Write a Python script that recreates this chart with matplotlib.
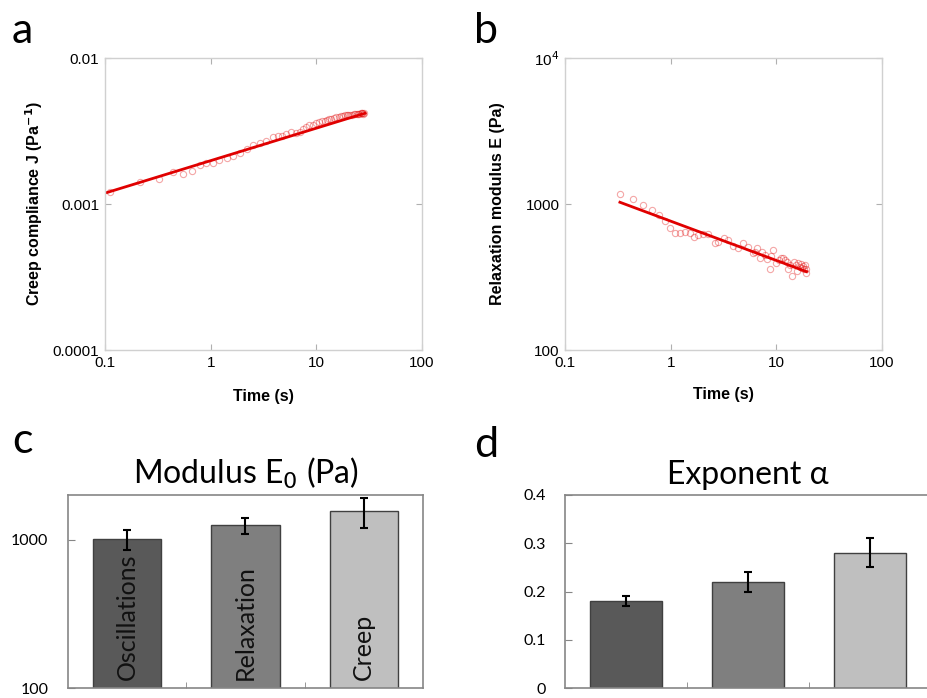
import matplotlib
matplotlib.use("Agg")
import matplotlib.pyplot as plt
from matplotlib.ticker import FixedLocator, NullLocator, FixedFormatter
from matplotlib.transforms import blended_transform_factory

# ---- data ----
# (a) creep compliance
creep_t = [0.111, 0.214, 0.327, 0.436, 0.55, 0.66, 0.79, 0.91, 1.06, 1.21, 1.42, 1.64,
           1.89, 2.19, 2.53, 2.92, 3.37, 3.9, 4.3, 4.69, 5.2, 5.82, 6.4, 6.98, 7.5, 8.07,
           8.6, 9.2, 10.0, 10.6, 11.3, 12.0, 12.5, 13.2, 13.9, 14.6, 15.5, 16.3, 17.0,
           17.8, 18.5, 19.3, 20.1, 21.0, 21.8, 22.6, 23.3, 24.0, 24.8, 25.5, 26.2, 26.8,
           27.3, 27.8, 28.2]
creep_J = [0.00121, 0.00142, 0.00148, 0.00166, 0.00160, 0.00169, 0.00185, 0.00190,
           0.00192, 0.00200, 0.00206, 0.00213, 0.00223, 0.00237, 0.00254, 0.00263,
           0.00272, 0.00286, 0.00290, 0.00292, 0.00300, 0.00313, 0.00306, 0.00313,
           0.00325, 0.00339, 0.00345, 0.00350, 0.00357, 0.00362, 0.00368, 0.00372,
           0.00376, 0.00380, 0.00385, 0.00388, 0.00392, 0.00396, 0.00398, 0.00401,
           0.00404, 0.00407, 0.00405, 0.00410, 0.00408, 0.00413, 0.00411, 0.00413,
           0.00416, 0.00412, 0.00417, 0.00417, 0.00420, 0.00414, 0.00419]
creep_fit_t = [0.105, 29.0]
creep_fit_J = [0.00120, 0.00419]

# (b) relaxation modulus
relax_t = [0.331, 0.443, 0.55, 0.66, 0.78, 0.88, 0.98, 1.1, 1.23, 1.37, 1.52, 1.66,
           1.82, 2.04, 2.27, 2.63, 2.83, 3.2, 3.52, 3.9, 4.37, 4.87, 5.45, 6.05, 6.6,
           7.3, 7.8, 8.7, 9.4, 10.5, 11.6, 12.7, 14.2, 15.2, 16.7, 18.3, 19.2,
           9.0, 10.0, 11.0, 12.2, 13.5, 14.8, 16.0, 17.5, 18.8, 6.3, 7.0, 8.2, 13.0,
           15.8, 17.2, 18.0, 19.0]
relax_E = [1170, 1088, 980, 910, 841, 765, 681, 631, 631, 646, 631, 592,
           614, 620, 620, 537, 552, 582, 566, 515, 497, 537, 510, 459, 497,
           471, 448, 357, 484, 413, 424, 403, 321, 382, 372, 357, 339,
           440, 395, 430, 415, 380, 400, 395, 365, 380, 470, 430, 420, 360,
           350, 390, 375, 360]
relax_fit_t = [0.331, 19.3]
relax_fit_E = [1028, 344]

# (c), (d) bar charts
methods = ["Oscillations", "Relaxation", "Creep"]
modulus = [1010, 1250, 1550]
modulus_err = [160, 160, 360]
exponent = [0.18, 0.22, 0.28]
exponent_err = [0.01, 0.02, 0.03]
bar_colors = ["#595959", "#7f7f7f", "#bfbfbf"]

time_ticks = [0.1, 1, 10, 100]
time_labels = ["0.1", "1", "10", "100"]
creep_ticks = [0.0001, 0.001, 0.01]
creep_labels = ["0.0001", "0.001", "0.01"]
relax_ticks = [100, 1000, 10000]
relax_labels = ["100", "1000", "10$^4$"]

W, H = 927, 698
fig = plt.figure(figsize=(W / 100, H / 100), dpi=100)


def fr(x0, y0, x1, y1):
    # pixel box -> figure fraction rect
    return [x0 / W, 1 - y1 / H, (x1 - x0) / W, (y1 - y0) / H]


arial = "Liberation Sans"
cal = ["Lato", "DejaVu Sans"]
frame_col = "#d0d0d0"
red = "#e00000"


def style_loglog(ax, yticks, ylabels, ylim):
    ax.set_xscale("log")
    ax.set_yscale("log")
    ax.set_xlim(0.1, 100)
    ax.set_ylim(*ylim)
    ax.xaxis.set_major_locator(FixedLocator(time_ticks))
    ax.xaxis.set_major_formatter(FixedFormatter(time_labels))
    ax.yaxis.set_major_locator(FixedLocator(yticks))
    ax.yaxis.set_major_formatter(FixedFormatter(ylabels))
    ax.xaxis.set_minor_locator(NullLocator())
    ax.yaxis.set_minor_locator(NullLocator())
    for s in ax.spines.values():
        s.set_color(frame_col)
        s.set_linewidth(1.0)
    ax.tick_params(which="major", direction="in", length=4, color="#b0b0b0",
                   top=True, right=True, labelsize=11, pad=4,
                   labelfontfamily=arial)


# ---- a ----
ax_a = fig.add_axes(fr(105, 58, 422, 350))
ax_a.plot(creep_t, creep_J, "o", mfc="none", mec=red, alpha=0.35, ms=4.5, mew=0.8)
ax_a.plot(creep_fit_t, creep_fit_J, "-", color=red, lw=2)
style_loglog(ax_a, creep_ticks, creep_labels, (0.0001, 0.01))
ax_a.set_xlabel("Time (s)", fontfamily=arial, fontweight="bold", fontsize=11.5)
ax_a.set_ylabel("Creep compliance J (Pa$^{\\mathbf{-1}}$)", fontfamily=arial,
                fontweight="bold", fontsize=11.5)
ax_a.xaxis.set_label_coords(0.5, -0.135)
ax_a.yaxis.set_label_coords(-0.19, 0.5)

# ---- b ----
ax_b = fig.add_axes(fr(565, 58, 882, 350))
ax_b.plot(relax_t, relax_E, "o", mfc="none", mec=red, alpha=0.35, ms=4.5, mew=0.8)
ax_b.plot(relax_fit_t, relax_fit_E, "-", color=red, lw=2)
style_loglog(ax_b, relax_ticks, relax_labels, (100, 10000))
ax_b.set_xlabel("Time (s)", fontfamily=arial, fontweight="bold", fontsize=11.5)
ax_b.set_ylabel("Relaxation modulus E (Pa)", fontfamily=arial,
                fontweight="bold", fontsize=11.5)
ax_b.xaxis.set_label_coords(0.5, -0.125)
ax_b.yaxis.set_label_coords(-0.19, 0.5)


def style_bar(ax):
    for s in ax.spines.values():
        s.set_color("#868686")
        s.set_linewidth(1.2)
    ax.set_xlim(-0.5, 2.5)
    ax.set_xticks([])
    ax.xaxis.set_minor_locator(FixedLocator([0.5, 1.5]))
    ax.tick_params(axis="x", which="minor", direction="in", length=4, color="#868686")
    ax.tick_params(axis="y", which="major", direction="in", length=5, color="#868686",
                   labelsize=11.5, pad=14, labelfontfamily="Lato")
    ax.tick_params(axis="y", which="minor", length=0)


xs = range(len(methods))

# ---- c ----
ax_c = fig.add_axes(fr(68, 495, 423, 688))
ax_c.set_yscale("log")
ax_c.bar(xs, modulus, width=0.58, color=bar_colors, edgecolor="#404040", lw=1.0)
ax_c.errorbar(xs, modulus, yerr=modulus_err, fmt="none", ecolor="black",
              elinewidth=1.5, capsize=3, capthick=1.5)
ax_c.set_ylim(100, 2000)
ax_c.yaxis.set_major_locator(FixedLocator([100, 1000]))
ax_c.yaxis.set_major_formatter(FixedFormatter(["100", "1000"]))
ax_c.yaxis.set_minor_locator(NullLocator())
style_bar(ax_c)
trans = blended_transform_factory(ax_c.transData, ax_c.transAxes)
for i, m in enumerate(methods):
    ax_c.text(i, 0.04, m, rotation=90, ha="center", va="bottom", transform=trans,
              fontfamily=cal, fontsize=18, color="#111111")
ax_c.set_title("Modulus E$_0$ (Pa)", fontfamily=cal, fontsize=23, pad=8)

# ---- d ----
ax_d = fig.add_axes(fr(565, 495, 931, 688))
ax_d.bar(xs, exponent, width=0.59, color=bar_colors, edgecolor="#404040", lw=1.0)
ax_d.errorbar(xs, exponent, yerr=exponent_err, fmt="none", ecolor="black",
              elinewidth=1.5, capsize=3, capthick=1.5)
ax_d.set_ylim(0, 0.4)
ax_d.yaxis.set_major_locator(FixedLocator([0, 0.1, 0.2, 0.3, 0.4]))
ax_d.yaxis.set_major_formatter(FixedFormatter(["0", "0.1", "0.2", "0.3", "0.4"]))
style_bar(ax_d)
ax_d.set_title("Exponent α", fontfamily=cal, fontsize=23, pad=8)

# panel letters
for lbl, x, y in [("a", 12, 43), ("b", 474, 43), ("c", 12, 453), ("d", 474, 457)]:
    fig.text(x / W, 1 - y / H, lbl, fontfamily=cal, fontsize=31, va="baseline")

fig.savefig("out.png", dpi=100)
